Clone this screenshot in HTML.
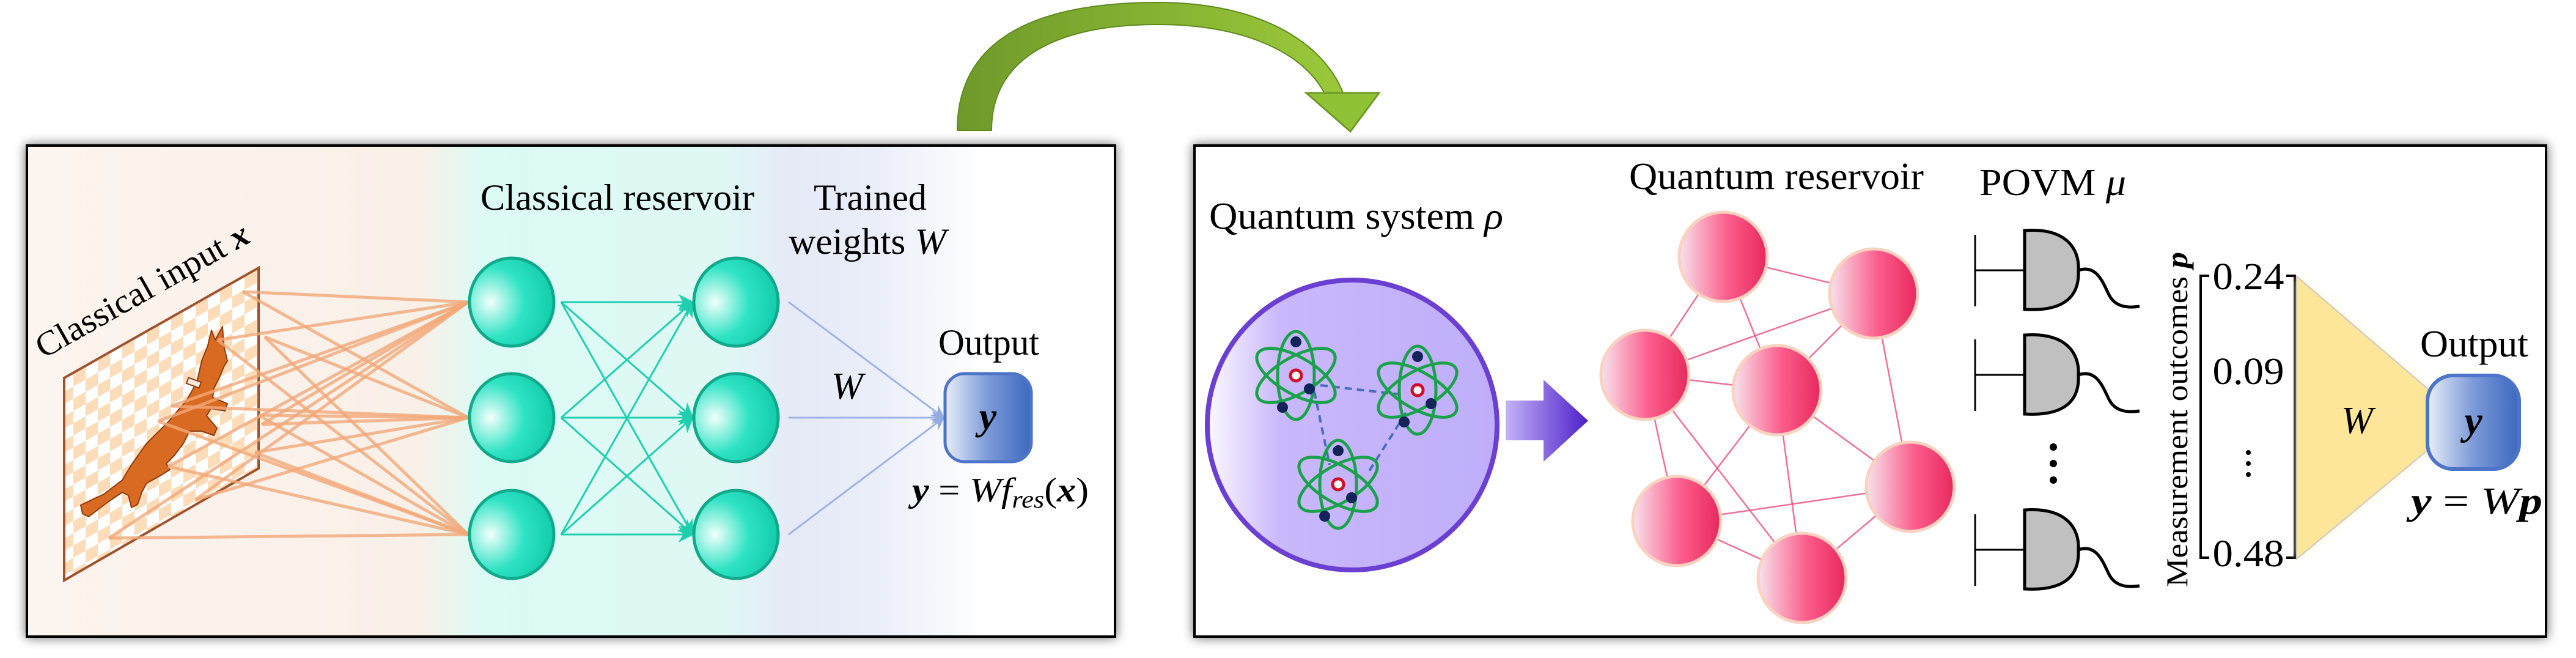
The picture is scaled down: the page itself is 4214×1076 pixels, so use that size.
<!DOCTYPE html>
<html><head><meta charset="utf-8"><title>Classical vs quantum reservoir computing</title>
<style>
html,body{margin:0;padding:0;background:#fff;}
svg{display:block;}
text{font-family:"Liberation Serif",serif;fill:#000;}
</style></head>
<body>
<svg id="fig" width="4214" height="1076" viewBox="0 0 4214 1076" xmlns="http://www.w3.org/2000/svg">
<defs>
  <linearGradient id="leftBg" x1="44" x2="1824" y1="0" y2="0" gradientUnits="userSpaceOnUse">
    <stop offset="0" stop-color="#fcf4ee"/>
    <stop offset="0.36" stop-color="#f9f0e8"/>
    <stop offset="0.42" stop-color="#dcfbf4"/>
    <stop offset="0.64" stop-color="#dff8f4"/>
    <stop offset="0.70" stop-color="#e6eaf7"/>
    <stop offset="0.78" stop-color="#eaeef9"/>
    <stop offset="0.88" stop-color="#ffffff"/>
  </linearGradient>
  <radialGradient id="tealNode" cx="0.25" cy="0.5" r="0.9">
    <stop offset="0" stop-color="#f2fffc"/>
    <stop offset="0.45" stop-color="#2ee3c4"/>
    <stop offset="1" stop-color="#06c2a0"/>
  </radialGradient>
  <linearGradient id="pinkNode" x1="0" x2="1" y1="0" y2="0">
    <stop offset="0" stop-color="#f7e3ec"/>
    <stop offset="0.55" stop-color="#fb5d8c"/>
    <stop offset="1" stop-color="#e8285d"/>
  </linearGradient>
  <linearGradient id="blueBox" x1="0" x2="1" y1="0" y2="0">
    <stop offset="0" stop-color="#e8eef9"/>
    <stop offset="0.5" stop-color="#7b9ad8"/>
    <stop offset="1" stop-color="#3d68bf"/>
  </linearGradient>
  <linearGradient id="purpleCircle" x1="0" x2="1" y1="0" y2="0">
    <stop offset="0" stop-color="#fbf8ff"/>
    <stop offset="0.25" stop-color="#c9b8fb"/>
    <stop offset="1" stop-color="#bfaefa"/>
  </linearGradient>
  <linearGradient id="purpleArrow" x1="0" x2="1" y1="0" y2="0">
    <stop offset="0" stop-color="#c3b2f7"/>
    <stop offset="1" stop-color="#4d1fc8"/>
  </linearGradient>
  <linearGradient id="greenArc" x1="0" x2="1" y1="0" y2="0">
    <stop offset="0" stop-color="#6f9a2a"/>
    <stop offset="1" stop-color="#9bc93a"/>
  </linearGradient>
  <pattern id="checker" width="40" height="40" patternUnits="userSpaceOnUse" patternTransform="skewY(-29.5)">
    <rect width="40" height="40" fill="#ffffff"/>
    <rect width="20" height="20" fill="#fddcba"/>
    <rect x="20" y="20" width="20" height="20" fill="#fddcba"/>
  </pattern>
  <filter id="shadow" x="-5%" y="-10%" width="110%" height="120%">
    <feGaussianBlur in="SourceAlpha" stdDeviation="9"/>
    <feOffset dx="0" dy="0"/>
    <feComponentTransfer><feFuncA type="linear" slope="0.6"/></feComponentTransfer>
    <feMerge><feMergeNode/><feMergeNode in="SourceGraphic"/></feMerge>
  </filter>
  <filter id="soft" x="-20%" y="-20%" width="140%" height="140%"><feGaussianBlur stdDeviation="6"/></filter>
  <marker id="tealHead" viewBox="0 0 10 10" markerWidth="26" markerHeight="26" refX="9" refY="5" orient="auto" markerUnits="userSpaceOnUse">
    <path d="M0,0 L10,5 L0,10 L3,5 Z" fill="#1fcfb0"/>
  </marker>
  <marker id="blueHead" viewBox="0 0 10 10" markerWidth="22" markerHeight="22" refX="9" refY="5" orient="auto" markerUnits="userSpaceOnUse">
    <path d="M0,0 L10,5 L0,10 L3,5 Z" fill="#94abe0"/>
  </marker>
</defs>

<!-- green transition arrow -->
<g>
  <path d="M1566,213 C1566,60 1700,4 1895,4 C2060,4 2170,70 2200,160 L2170,160 C2140,90 2040,40 1895,40 C1720,40 1622,100 1622,213 Z" fill="url(#greenArc)" stroke="#5f8a20" stroke-width="2"/>
  <path d="M2137,152 L2256,152 L2209,215 Z" fill="#8fc234" stroke="#6f9a2a" stroke-width="3"/>
</g>

<!-- LEFT PANEL -->
<g>
  <rect x="44" y="238" width="1780" height="803" fill="url(#leftBg)" stroke="#000" stroke-width="4" filter="url(#shadow)"/>

  <g>
    <polygon points="105,618 423,438 423,766 105,949" fill="url(#checker)" stroke="#a0522d" stroke-width="4"/>
    <polygon points="135,840 132,826 170,808 200,785 215,760 240,725 275,690 305,655 322,625 330,590 340,565 346,540 352,556 364,534 366,565 372,590 366,600 360,615 350,635 348,650 372,660 368,672 345,668 338,680 355,700 350,712 330,705 310,705 300,725 285,745 272,758 278,768 262,778 240,790 232,805 225,825 215,830 210,810 200,805 175,822 145,845" fill="#d96a22" stroke="#8a3d10" stroke-width="2" stroke-linejoin="round"/>
    <rect x="306" y="621" width="22" height="10" fill="#fbe8d8" stroke="#8a3d10" stroke-width="2" transform="rotate(20 317 626)"/>
  </g>

  <g id="inputLines"></g>

  <text x="71" y="587" font-size="56" transform="rotate(-29.4 71 587)" textLength="392" lengthAdjust="spacingAndGlyphs">Classical input <tspan font-weight="bold" font-style="italic">x</tspan></text>

  <g id="cArrows"></g>
  <g id="cNodes"></g>
  <g id="wLines"></g>

  <text x="786" y="343" font-size="60" textLength="448" lengthAdjust="spacingAndGlyphs">Classical reservoir</text>
  <text x="1331" y="343" font-size="60" textLength="185" lengthAdjust="spacingAndGlyphs">Trained</text>
  <text x="1290" y="415" font-size="60" textLength="258" lengthAdjust="spacingAndGlyphs">weights <tspan font-style="italic">W</tspan></text>
  <text x="1360" y="652" font-size="62" font-style="italic">W</text>
  <text x="1535" y="580" font-size="60" textLength="165" lengthAdjust="spacingAndGlyphs">Output</text>
  <rect x="1546" y="611" width="141" height="144" rx="32" fill="url(#blueBox)" stroke="#4d74c8" stroke-width="5"/>
  <text x="1616" y="702" font-size="64" font-style="italic" font-weight="bold" text-anchor="middle">y</text>
  <text x="1492" y="820" font-size="56" textLength="289" lengthAdjust="spacingAndGlyphs"><tspan font-style="italic" font-weight="bold">y</tspan> = <tspan font-style="italic">Wf</tspan><tspan font-style="italic" font-size="40" dy="10">res</tspan><tspan dy="-10">(</tspan><tspan font-style="italic" font-weight="bold">x</tspan>)</text>
</g>

<!-- RIGHT PANEL -->
<g>
  <rect x="1954" y="238" width="2211" height="803" fill="#fff" stroke="#000" stroke-width="4" filter="url(#shadow)"/>
  <text x="1978" y="374" font-size="62" textLength="481" lengthAdjust="spacingAndGlyphs">Quantum system <tspan font-style="italic">ρ</tspan></text>
  <circle cx="2212" cy="695" r="237" fill="url(#purpleCircle)" stroke="#6a3fd2" stroke-width="8"/>
  <g stroke="#4a6cc0" stroke-width="4" stroke-dasharray="12,8" fill="none">
    <line x1="2160" y1="630" x2="2290" y2="645"/>
    <line x1="2150" y1="640" x2="2175" y2="760"/>
    <line x1="2300" y1="675" x2="2240" y2="770"/>
  </g>
  <g id="atoms"></g>
  <path d="M2463,655 L2525,655 L2525,621 L2598,688 L2525,755 L2525,720 L2463,720 Z" fill="url(#purpleArrow)"/>

  <text x="2665" y="309" font-size="62" textLength="482" lengthAdjust="spacingAndGlyphs">Quantum reservoir</text>
  <g id="qEdges"></g>
  <g id="qNodes"></g>

  <text x="3238" y="319" font-size="62" textLength="240" lengthAdjust="spacingAndGlyphs">POVM <tspan font-style="italic">μ</tspan></text>
  <g id="detectors"></g>
  <g fill="#000">
    <circle cx="3359" cy="731" r="6"/><circle cx="3359" cy="758" r="6"/><circle cx="3359" cy="785" r="6"/>
  </g>

  <text x="3578" y="960" font-size="50" transform="rotate(-90 3578 960)" textLength="548" lengthAdjust="spacingAndGlyphs">Measurement outcomes <tspan font-style="italic" font-weight="bold">p</tspan></text>
  <path d="M3614,451 L3600,451 L3600,912 L3614,912" fill="none" stroke="#000" stroke-width="4"/>
  <path d="M3740,451 L3754,451 L3754,912 L3740,912" fill="none" stroke="#000" stroke-width="4"/>
  <g id="outcomes"></g>
  <g fill="#000">
    <circle cx="3678" cy="740" r="4"/><circle cx="3678" cy="758" r="4"/><circle cx="3678" cy="776" r="4"/>
  </g>

  <polygon points="3757,452 3974,638 3974,734 3757,914" fill="#fff1c2" filter="url(#soft)"/>
  <polygon points="3757,452 3974,638 3974,734 3757,914" fill="#fde69a" stroke="#c8c8c8" stroke-width="2"/>
  <text x="3856" y="708" font-size="62" font-style="italic" text-anchor="middle">W</text>
  <text x="3959" y="583" font-size="62" textLength="177" lengthAdjust="spacingAndGlyphs">Output</text>
  <rect x="3971" y="614" width="150" height="153" rx="42" fill="url(#blueBox)" stroke="#4d74c8" stroke-width="6"/>
  <text x="4046" y="710" font-size="66" font-style="italic" font-weight="bold" text-anchor="middle">y</text>
  <text x="3944" y="840" font-size="62" textLength="215" lengthAdjust="spacingAndGlyphs"><tspan font-style="italic" font-weight="bold">y</tspan> = <tspan font-style="italic">W</tspan><tspan font-style="italic" font-weight="bold">p</tspan></text>
</g>

<script>
const NS = 'http://www.w3.org/2000/svg';
// data arrays
const outcomeValues = ['0.24', '0.09', '0.48'];
const classicalLayers = [3, 3];
const quantumNodeCount = 7;
const quantumEdges = [[0,1],[0,2],[0,3],[1,2],[1,3],[1,4],[2,3],[2,5],[2,6],[3,4],[3,5],[3,6],[4,5],[4,6],[5,6]];
const detectorCount = 3;

function mk(tag, attrs, parent) {
  const e = document.createElementNS(NS, tag);
  for (const k in attrs) e.setAttribute(k, attrs[k]);
  parent.appendChild(e);
  return e;
}

const colX = [837, 1204];
const rowY = [494, 683, 874];
const nodeR = 71;

const srcPts = [[397,477],[356,556],[433,551],[280,664],[259,689],[423,679],[428,694],[275,763],[417,740],[320,817],[178,880]];
const inG = document.getElementById('inputLines');
srcPts.forEach((p, i) => {
  rowY.forEach((y, j) => {
    if ((i + j) % 3 === 2) return;
    const l = mk('line', {x1:p[0], y1:p[1], x2:colX[0]-nodeR, y2:y, stroke:'#f2a878', 'stroke-width':5, 'stroke-opacity':0.8}, inG);
    
    
  });
});

const aG = document.getElementById('cArrows');
rowY.forEach(y1 => rowY.forEach(y2 => {
  const l = mk('line', {x1:colX[0]+nodeR+10, y1:y1, x2:colX[1]-nodeR, y2:y2, stroke:'#1fcfb0', 'stroke-width':3, 'marker-end':'url(#tealHead)'}, aG);
  
  
}));

const nG = document.getElementById('cNodes');
classicalLayers.forEach((n, c) => {
  for (let r = 0; r < n; r++) {
    const e = mk('ellipse', {cx:colX[c], cy:rowY[r], rx:nodeR-2, ry:nodeR+1, fill:'url(#tealNode)', stroke:'#11a98c', 'stroke-width':5}, nG);
    
    
  }
});

const wG = document.getElementById('wLines');
rowY.forEach(y => {
  const l = mk('line', {x1:colX[1]+nodeR+15, y1:y, x2:1544, y2:683, stroke:'#9fb3e6', 'stroke-width':3, 'marker-end':'url(#blueHead)'}, wG);
  
  
});

const atomCenters = [[2120,614],[2319,638],[2189,792]];
const atG = document.getElementById('atoms');
atomCenters.forEach(c => {
  const g = mk('g', {transform:`translate(${c[0]},${c[1]})`}, atG);
  
  
  [0, 60, -60].forEach(a => mk('ellipse', {cx:0, cy:0, rx:30, ry:72, fill:'none', stroke:'#1aa24a', 'stroke-width':5, transform:`rotate(${a})`}, g));
  mk('circle', {cx:0, cy:0, r:9, fill:'#fff', stroke:'#d0102a', 'stroke-width':5}, g);
  mk('circle', {cx:0, cy:-55, r:9, fill:'#14235a'}, g);
  mk('circle', {cx:22, cy:22, r:9, fill:'#14235a'}, g);
  mk('circle', {cx:-22, cy:52, r:9, fill:'#14235a'}, g);
});

const qPos = [[2819,420],[3065,480],[2691,613],[2907,638],[3125,796],[2743,852],[2948,945]];
const eG = document.getElementById('qEdges');
quantumEdges.forEach(e => {
  const a = qPos[e[0]], b = qPos[e[1]];
  const l = mk('line', {x1:a[0], y1:a[1], x2:b[0], y2:b[1], stroke:'#f04a7c', 'stroke-width':2.5, 'stroke-opacity':0.8}, eG);
  
  
});
const qG = document.getElementById('qNodes');
for (let i = 0; i < quantumNodeCount; i++) {
  const p = qPos[i];
  const e = mk('ellipse', {cx:p[0], cy:p[1], rx:72, ry:73, fill:'url(#pinkNode)', stroke:'#fbd2c0', 'stroke-width':5}, qG);
  
  
}

const detY = [442, 613, 899];
const dG = document.getElementById('detectors');
for (let i = 0; i < detectorCount; i++) {
  const y = detY[i];
  const g = mk('g', {}, dG);
  
  
  mk('line', {x1:3231, y1:y-58, x2:3231, y2:y+59, stroke:'#000', 'stroke-width':3}, g);
  mk('line', {x1:3231, y1:y, x2:3312, y2:y, stroke:'#000', 'stroke-width':3}, g);
  mk('path', {d:`M3312,${y-65} C3380,${y-70} 3402,${y-35} 3400,${y} C3402,${y+40} 3380,${y+68} 3312,${y+64} Z`, fill:'#c0c0c0', stroke:'#000', 'stroke-width':5}, g);
  mk('path', {d:`M3400,${y} C3430,${y-10} 3440,${y+20} 3450,${y+40} C3460,${y+60} 3480,${y+62} 3500,${y+59}`, fill:'none', stroke:'#000', 'stroke-width':5}, g);
}

const outY = [473, 628, 926];
const oG = document.getElementById('outcomes');
outcomeValues.forEach((v, i) => {
  const t = mk('text', {x:3678, y:outY[i], 'font-size':62, 'text-anchor':'middle', textLength:117, lengthAdjust:'spacingAndGlyphs'}, oG);
  t.textContent = v;
  
  
});
</script>
</svg>
</body></html>
